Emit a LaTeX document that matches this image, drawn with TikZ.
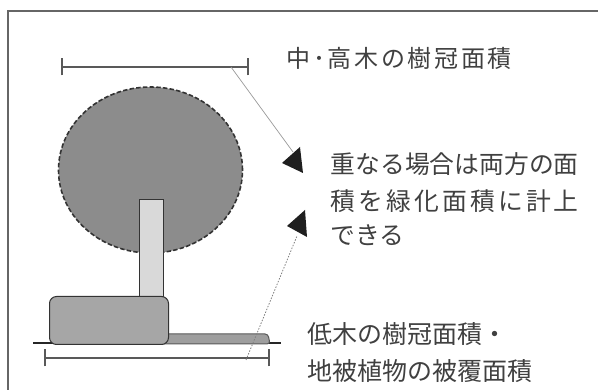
\documentclass[tikz,border=0pt]{standalone}
\usepackage{fontspec}
\usetikzlibrary{shapes.geometric}
\newfontfamily\jp{Noto Sans CJK JP}
\begin{document}
\begin{tikzpicture}[x=1pt,y=-1pt,
  dimline/.style={draw=black!65,line width=1.3pt},
  label/.style={font=\jp\fontsize{25}{28}\selectfont,text=black!75,inner sep=0pt,anchor=west},
  leaderhead/.style={fill=black!88,draw=none}]
\useasboundingbox (0,0) rectangle (598,390);
% frame (left and top edges)
\draw[black!60,line width=1.8pt] (8,390) -- (8,11) -- (598,11);

% ground line
\draw[black!85,line width=1.8pt] (33,343) -- (281,343);
% ground cover strip
\draw[fill=black!38,draw=black!65,line width=1pt,rounded corners=3pt]
  (150,334) -- (268,334) -- (270,344) -- (150,344) -- cycle;
% tree crown
\node[ellipse,minimum width=184pt,minimum height=166pt,inner sep=0pt,
      fill=black!45,draw=black!80,line width=1.6pt,dash pattern=on 4.5pt off 2.2pt]
      (crown) at (150.5,170) {};
% trunk
\node[draw=black!80,fill=black!15,line width=1pt,minimum width=24pt,minimum height=97pt,
      inner sep=0pt,anchor=north] (trunk) at (151,199) {};
% shrub
\node[draw=black!80,fill=black!35,line width=1pt,rounded corners=7pt,
      minimum width=119pt,minimum height=48pt,inner sep=0pt,anchor=north west] (shrub) at (49,296) {};

% dimension line for crown width
\coordinate (ta) at (62,67);
\coordinate (tb) at (248,67);
\draw[dimline] (ta) -- (tb);
\draw[dimline] ([yshift=-8.5pt]ta) -- ([yshift=8.5pt]ta);
\draw[dimline] ([yshift=-8.5pt]tb) -- ([yshift=8.5pt]tb);
% dimension line for shrub and ground cover width
\coordinate (ba) at (45,358);
\coordinate (bb) at (269,358);
\draw[dimline] (ba) -- (bb);
\draw[dimline] ([yshift=-8.5pt]ba) -- ([yshift=8.5pt]ba);
\draw[dimline] ([yshift=-8.5pt]bb) -- ([yshift=8.5pt]bb);

% labels
\node[label,font=\jp\fontsize{24}{28}\selectfont] (upper) at (286.5,58)
  {\makebox[225pt][s]{中\hfill ･\hfill 高\hfill 木\hfill の\hfill 樹\hfill 冠\hfill 面\hfill 積}};
\node[label,font=\jp\fontsize{24.8}{28}\selectfont] (midA) at (330.5,164)
  {\makebox[248pt][s]{重\hfill な\hfill る\hfill 場\hfill 合\hfill は\hfill 両\hfill 方\hfill の\hfill 面}};
\node[label,font=\jp\fontsize{24.8}{28}\selectfont] (midB) at (330.5,201)
  {\makebox[248pt][s]{積\hfill を\hfill 緑\hfill 化\hfill 面\hfill 積\hfill に\hfill 計\hfill 上}};
\node[label,font=\jp\fontsize{24.8}{28}\selectfont] (midC) at (330.5,235) {できる};
\node[label] (lowA) at (307.5,334) {低木の樹冠面積・};
\node[label] (lowB) at (307.5,371) {地被植物の被覆面積};

% leaders
\coordinate (l1s) at (231,67);
\coordinate (l1e) at (293,152);
\draw[black!40,line width=0.7pt] (l1s) -- (l1e);
\fill[leaderhead] (282,163) -- (300,147) -- (303,173) -- cycle;
\coordinate (l2s) at (246,360);
\coordinate (l2e) at (297,236);
\draw[black!50,line width=0.8pt,dash pattern=on 1.5pt off 1.5pt] (l2s) -- (l2e);
\fill[leaderhead] (305,210) -- (287,226) -- (307,237) -- cycle;
\end{tikzpicture}
\end{document}
